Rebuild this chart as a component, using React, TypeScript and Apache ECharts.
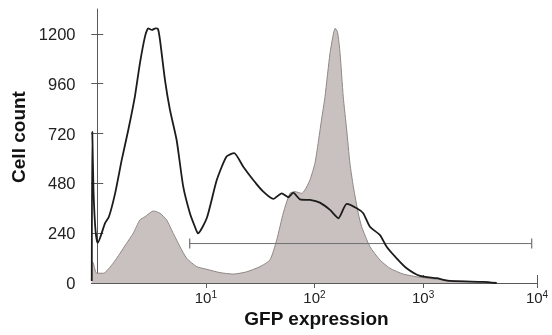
import React, { useEffect, useRef } from "react";
import * as echarts from "echarts";

// GFP expression (linear units) and cell counts for the open (black line) histogram
const blackX = [0.89, 0.9, 0.923, 0.963, 1.01, 1.18, 1.28, 1.46, 1.68, 1.93, 2.22, 2.47, 2.75, 2.95, 3.19, 3.43, 3.62, 3.78, 4.2, 4.67, 5.38, 6.19, 7.14, 7.93, 8.45, 10.2, 12.6, 15.5, 18.2, 22.1, 27.3, 33.8, 41.8, 49.9, 57.4, 63.8, 73.5, 90.9, 112, 139, 166, 198, 245, 281, 324, 401, 462, 571, 706, 936, 1333, 1769, 3581, 4760];
const blackY = [10, 729, 448, 255, 193, 288, 319, 432, 593, 737, 898, 1058, 1187, 1227, 1219, 1227, 1224, 1171, 979, 834, 689, 464, 335, 271, 239, 313, 496, 609, 626, 560, 496, 440, 405, 432, 413, 435, 403, 400, 387, 352, 312, 381, 360, 336, 271, 231, 175, 119, 71, 34, 23, 10, 5, 0];

// filled (grey) histogram
const grayX = [0.886, 0.907, 0.987, 1.14, 1.4, 1.62, 1.86, 2.14, 2.47, 2.75, 3.28, 3.78, 4.35, 5.01, 5.78, 6.66, 8.23, 10.2, 13.5, 17.9, 23.8, 31.5, 38.9, 44.9, 51.6, 59.5, 66.1, 76.2, 81.7, 90.8, 101, 108, 116, 125, 139, 150, 155, 163, 172, 184, 198, 212, 228, 253, 272, 324, 401, 495, 657, 873, 1333, 2038, 3581, 4760];
const grayY = [99, 101, 47, 47, 95, 143, 191, 239, 304, 319, 347, 336, 304, 239, 175, 119, 79, 66, 50, 43, 54, 79, 111, 207, 337, 432, 440, 432, 448, 496, 577, 673, 785, 898, 1107, 1205, 1227, 1209, 1107, 898, 737, 577, 464, 336, 271, 175, 111, 71, 43, 30, 18, 10, 5, 0];

// gate marker
const gateX = [7.1, 10000];
const gateLevel = 190;

// axes
const yTicks = [0, 240, 480, 720, 960, 1200];
const yMax = 1320;
const xTickExponents = [1, 2, 3];
const xMin = 0.885;
const xMax = 11190;

const FONT = "'Liberation Sans', Arial, Helvetica, sans-serif";

export default function App() {
  const ref = useRef<HTMLDivElement>(null);
  useEffect(() => {
    if (!ref.current) return;
    const chart = echarts.init(ref.current, null, { renderer: "svg" });
    const lx = (v: number) => Math.log10(v);
    const xLo = lx(xMin);
    const xHi = lx(xMax);
    const xTickVals = [...xTickExponents, xHi];
    const axisColor = "#5a5a5a";

    chart.setOption({
      animation: false,
      grid: { left: 91.5, right: 15, top: 9, bottom: 52, outerBoundsMode: "none" },
      xAxis: [
        {
          type: "value",
          min: xLo,
          max: xHi,
          axisLine: { show: true, onZero: false, lineStyle: { color: axisColor, width: 1 } },
          axisTick: { show: true, customValues: xTickVals, length: 5, lineStyle: { color: axisColor } },
          axisLabel: {
            customValues: xTickVals,
            margin: 6,
            formatter: (v: number) => `{b|10}{s|${Math.round(v)}}`,
            rich: {
              b: { fontSize: 15, fontFamily: FONT, color: "#222", lineHeight: 17 },
              s: { fontSize: 10, fontFamily: FONT, color: "#222", verticalAlign: "top", lineHeight: 11 },
            },
          },
          splitLine: { show: false },
        },
        {
          type: "value",
          min: xLo,
          max: xHi,
          position: "bottom",
          axisLine: { show: false },
          axisTick: { show: true, inside: true, customValues: xTickVals, length: 8, lineStyle: { color: axisColor } },
          axisLabel: { show: false },
          splitLine: { show: false },
        },
      ],
      yAxis: [
        {
          type: "value",
          min: 0,
          max: yMax,
          axisLine: { show: true, lineStyle: { color: axisColor, width: 1 } },
          axisTick: { show: true, customValues: yTicks, length: 6, lineStyle: { color: axisColor } },
          axisLabel: {
            customValues: yTicks,
            margin: 16,
            fontSize: 16.5,
            fontFamily: FONT,
            color: "#222",
            formatter: (v: number) => String(v),
          },
          splitLine: { show: false },
        },
        {
          type: "value",
          min: 0,
          max: yMax,
          position: "left",
          axisLine: { show: false },
          axisTick: { show: true, inside: true, customValues: yTicks, length: 6, lineStyle: { color: axisColor } },
          axisLabel: { show: false },
          splitLine: { show: false },
        },
      ],
      series: [
        {
          type: "line",
          data: grayX.map((x, i) => [lx(x), grayY[i]]),
          symbol: "none",
          smooth: 0.2,
          lineStyle: { color: "#8e8886", width: 1 },
          areaStyle: { color: "#c9c1bf", opacity: 1 },
          z: 1,
        },
        {
          type: "line",
          data: gateX.map((x) => [lx(x), gateLevel]),
          symbol: "rect",
          symbolSize: [1.2, 10],
          showSymbol: true,
          itemStyle: { color: "#707070" },
          lineStyle: { color: "#707070", width: 1 },
          z: 2,
        },
        {
          type: "line",
          data: blackX.map((x, i) => [lx(x), blackY[i]]),
          symbol: "none",
          smooth: 0.2,
          lineStyle: { color: "#1c1c1c", width: 1.8 },
          z: 3,
        },
      ],
      graphic: [
        {
          type: "text",
          x: 18,
          y: 137,
          rotation: Math.PI / 2,
          style: { text: "Cell count", font: `bold 19px ${FONT}`, fill: "#111", align: "center", verticalAlign: "middle" },
        },
        {
          type: "text",
          x: 316.5,
          y: 318,
          style: { text: "GFP expression", font: `bold 19px ${FONT}`, fill: "#111", align: "center", verticalAlign: "middle" },
        },
      ],
    });
    return () => chart.dispose();
  }, []);
  return <div ref={ref} style={{ position: "fixed", left: 0, top: 0, width: 552, height: 335 }} />;
}
